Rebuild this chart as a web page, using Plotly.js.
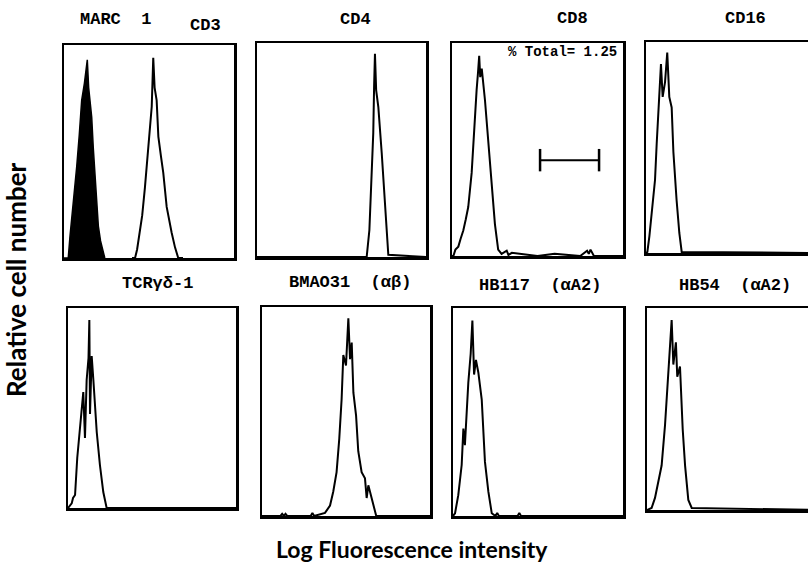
<!DOCTYPE html>
<html>
<head>
<meta charset="utf-8">
<script src="https://cdn.plot.ly/plotly-3.0.1.min.js"></script>
<style>html,body{margin:0;padding:0;background:#fff;}#chart{width:808px;height:562px;}</style>
</head>
<body>
<div id="chart"></div>
<script>
// Panel labels
const panelTitles = ["CD3", "CD4", "CD8", "CD16", "TCRγδ-1", "BMAO31  (αβ)", "HB117  (αA2)", "HB54  (αA2)"];
const controlLabel = "MARC  1";
const cd8Note = "% Total= 1.25";

// Histograms: x = log fluorescence channel (% of scale), y = relative cell number (% of scale)
const marcX = [0, 2.5, 3.5, 4.5, 6, 7.5, 9, 10.4, 12, 13, 13.7, 14.5, 16.3, 17.2, 18.2, 20.2, 21.5, 23.1, 24];
const marcY = [0, 0, 10, 18, 28, 43, 58, 74, 82, 88, 93, 80, 66, 52, 40, 15, 8, 2, 0];

const cd3X = [40, 41.8, 43, 44.7, 46, 47.6, 49, 50.2, 51.6, 52.5, 53.3, 54.5, 55.5, 57, 58.4, 60.4, 62, 63.3, 65.3, 67.2, 70];
const cd3Y = [0, 0, 4, 12, 20, 33, 47, 59, 71, 94, 80, 74, 57, 48, 40, 24, 17, 12, 5, 0, 0];

const cd4X = [0, 64.9, 66.5, 67.5, 68.8, 69.3, 69.8, 70.5, 71.8, 73.8, 75.7, 77.7, 100];
const cd4Y = [0, 0, 12.6, 35, 58, 80, 95, 78, 70, 48.6, 23.4, 1, 0];

const cd8X = [0, 0.8, 2, 3.7, 5, 6.6, 8, 9.5, 11.5, 13, 14.4, 15.2, 15.9, 16.5, 17.4, 19.3, 21.2, 23.2, 25.1, 27, 29, 32, 33, 35, 50, 60, 75, 79, 80, 81, 82, 83, 100];
const cd8Y = [0, 0, 3, 4.4, 8, 12, 17, 23, 39, 61, 78, 86, 94, 84, 88, 73, 53, 32, 15, 3, 1, 2.5, 0.5, 1.5, 0, 1, 0, 2.5, 1, 3, 1.5, 0, 0];

const cd16X = [0, 0.8, 2, 3.3, 4.3, 5.3, 6.3, 7.3, 8.8, 9.8, 11.2, 12.5, 13.7, 15.1, 16.1, 18, 19.6, 21, 100];
const cd16Y = [0, 0.5, 8, 17.5, 27, 34.6, 52, 69.5, 89.5, 74, 81, 95, 74, 69, 48, 25, 9.5, 0.5, 0];

const tcrX = [0, 2.2, 3, 4.2, 5.5, 7.1, 8, 9.1, 10.1, 11.1, 12.2, 12.7, 13.1, 14.1, 15.1, 17.1, 19, 21, 23, 100];
const tcrY = [0, 2.3, 5, 6.5, 25, 41.5, 50, 58, 35, 64, 75, 94, 47, 76, 64, 38, 21.5, 8, 0, 0];

const bmaX = [0, 11, 12, 13, 14, 15, 29, 30, 31, 37.5, 40.5, 42.4, 44.4, 46, 47.4, 48.4, 50, 50.8, 51.4, 52.4, 53.4, 54.4, 56, 57.3, 59.3, 61.3, 62.3, 63.3, 64.7, 65.9, 67.3, 68, 100];
const bmaY = [0, 0, 1, 0, 1, 0, 0, 1.5, 0, 1.5, 5, 11.6, 21, 37, 56, 77, 72, 88, 94.6, 75, 83, 59, 48, 31, 21, 18, 8.6, 14.7, 10, 7, 1.5, 0, 0];

const hb117X = [0, 1.2, 3.1, 5.1, 6.1, 7, 9, 10.4, 11.4, 12.4, 13.5, 14.9, 16.9, 18.8, 20.8, 22.8, 25, 26, 27, 38, 39, 40, 100];
const hb117Y = [0, 1.3, 10, 24.5, 42, 34, 64, 78, 94, 68, 75, 69, 56, 26, 11.7, 1.3, 0, 1.5, 0, 0, 1.5, 0, 0];

const hb54X = [0, 2.7, 4.7, 6.7, 8.6, 10.6, 12.5, 14.5, 15.5, 17, 17.8, 19.4, 21, 22.4, 24.3, 26.3, 100];
const hb54Y = [0, 1, 6, 14, 22, 42, 67, 94, 72, 83, 66, 71, 40, 22, 5, 1, 0];

// CD8 gate marker (channel range, level)
const gateX = [51.5, 86];
const gateY = [45, 45];

const seriesX = [cd3X, cd4X, cd8X, cd16X, tcrX, bmaX, hb117X, hb54X];
const seriesY = [cd3Y, cd4Y, cd8Y, cd16Y, tcrY, bmaY, hb117Y, hb54Y];

// Layout geometry (pixels: left, right, top, bottom)
const W = 808, H = 562;
const boxes = [
  [64, 234, 45, 258], [257, 426, 43, 257], [452, 623, 43, 256], [646, 816, 42, 253],
  [68, 236, 308, 508], [262, 430, 307, 516], [453, 623, 308, 516], [647, 817, 308, 510]
];

const traces = [];
const layout = {
  width: W, height: H, margin: {l: 0, r: 0, t: 0, b: 0},
  paper_bgcolor: '#fff', plot_bgcolor: '#fff', showlegend: false,
  annotations: []
};

boxes.forEach((b, i) => {
  const n = i + 1;
  const xa = 'xaxis' + (n === 1 ? '' : n), ya = 'yaxis' + (n === 1 ? '' : n);
  const xr = 'x' + (n === 1 ? '' : n), yr = 'y' + (n === 1 ? '' : n);
  const x0 = b[0] / W, x1 = Math.min(b[1], W) / W;
  const clipped = b[1] > W;
  const xmax = clipped ? 100 * (W - b[0]) / (b[1] - b[0]) : 100;
  layout[xa] = {domain: [x0, x1], range: [0, xmax], showticklabels: false, ticks: '', showgrid: false,
    zeroline: false, showline: true, linecolor: '#000', linewidth: 2.5, mirror: true, anchor: yr, fixedrange: true};
  layout[ya] = {domain: [1 - b[3] / H, 1 - b[2] / H], range: [0, 100], showticklabels: false, ticks: '', showgrid: false,
    zeroline: false, showline: true, linecolor: '#000', linewidth: 2.5, mirror: !clipped, anchor: xr, fixedrange: true};
  if (i === 0) {
    traces.push({x: marcX, y: marcY, xaxis: xr, yaxis: yr, type: 'scatter', mode: 'lines',
      fill: 'tozeroy', fillcolor: '#000', line: {color: '#000', width: 1.5}, hoverinfo: 'skip'});
  }
  traces.push({x: seriesX[i], y: seriesY[i], xaxis: xr, yaxis: yr, type: 'scatter', mode: 'lines',
    line: {color: '#000', width: 2}, hoverinfo: 'skip'});
  if (i === 2) {
    traces.push({x: gateX, y: gateY, xaxis: xr, yaxis: yr, type: 'scatter', mode: 'lines+markers',
      line: {color: '#000', width: 2}, marker: {symbol: 'line-ns', size: 16, line: {color: '#000', width: 2.5}},
      hoverinfo: 'skip'});
  }
});

const tFont = {family: '"Liberation Mono", "DejaVu Sans Mono", monospace', size: 17, color: '#000'};
const titlePos = [[205, 25], [355, 20], [572, 18], [745, 18], [157, 283], [350, 282], [540, 285], [735, 285]];
panelTitles.forEach((t, i) => {
  layout.annotations.push({text: '<b>' + t + '</b>', xref: 'paper', yref: 'paper',
    x: titlePos[i][0] / W, y: 1 - titlePos[i][1] / H, xanchor: 'center', yanchor: 'middle', showarrow: false, font: tFont});
});
layout.annotations.push({text: '<b>' + controlLabel + '</b>', xref: 'paper', yref: 'paper',
  x: 116 / W, y: 1 - 20 / H, xanchor: 'center', yanchor: 'middle', showarrow: false, font: tFont});
layout.annotations.push({text: '<b>' + cd8Note + '</b>', xref: 'paper', yref: 'paper',
  x: 619 / W, y: 1 - 52 / H, xanchor: 'right', yanchor: 'middle', showarrow: false,
  font: {family: '"Liberation Mono", monospace', size: 14, color: '#000'}});
layout.annotations.push({text: '<b>Log Fluorescence intensity</b>', xref: 'paper', yref: 'paper',
  x: 412 / W, y: 1 - 549 / H, xanchor: 'center', yanchor: 'middle', showarrow: false,
  font: {family: 'Lato, "Open Sans", sans-serif', size: 23, color: '#000'}});
layout.annotations.push({text: '<b>Relative cell number</b>', xref: 'paper', yref: 'paper', textangle: -90,
  x: 16 / W, y: 1 - 280 / H, xanchor: 'center', yanchor: 'middle', showarrow: false,
  font: {family: 'Lato, "Open Sans", sans-serif', size: 26, color: '#000'}});

Plotly.newPlot('chart', traces, layout, {staticPlot: true, displayModeBar: false});
</script>
</body>
</html>
